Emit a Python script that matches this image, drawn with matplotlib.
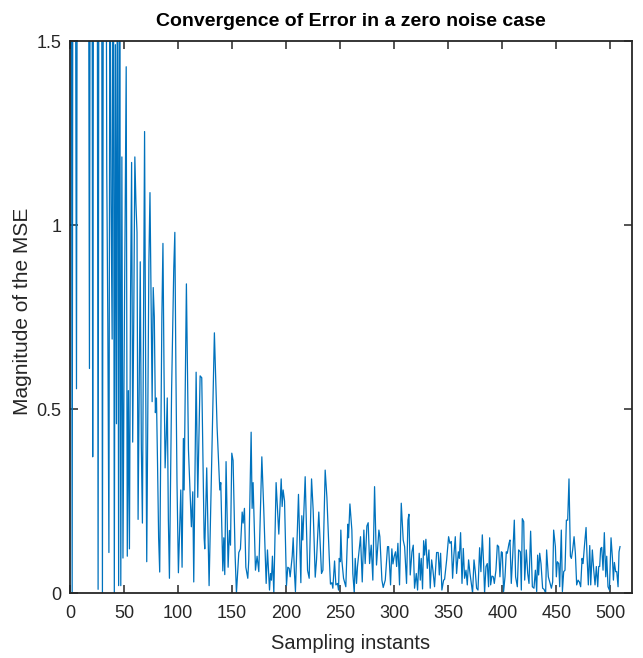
import matplotlib
matplotlib.use("Agg")
import matplotlib.pyplot as plt

# ---------------- data ----------------
instants = [
    1, 2, 3, 4, 5, 6, 7, 8, 9, 10, 11, 12, 13, 14, 15, 16, 17, 18, 19, 20,
    21, 22, 23, 24, 25, 26, 27, 28, 29, 30, 31, 32, 33, 34, 35, 36, 37, 38, 39, 40,
    41, 42, 43, 44, 45, 46, 47, 48, 49, 50, 51, 52, 53, 54, 55, 56, 57, 58, 59, 60,
    61, 62, 63, 64, 65, 66, 67, 68, 69, 70, 71, 72, 73, 74, 75, 76, 77, 78, 79, 80,
    81, 82, 83, 84, 85, 86, 87, 88, 89, 90, 91, 92, 93, 94, 95, 96, 97, 98, 99,
    100.3, 102.5, 103.7, 104.9, 105.6, 107.7, 109.6, 112.3, 113.6, 114.5, 116.7,
    118.2, 120.4, 121.9, 124.1, 124.7, 126.5, 128.7, 133.6, 136.1, 138.6, 139.5,
    141.4, 142.3, 143.2, 144.4, 146.3, 147.5, 148.5, 149.7, 150.9, 152.8, 154.0,
    156.2, 157.7, 159.3, 160.2, 161.4, 162.7, 164.5,
    165.4, 167.6, 168.5, 169.4, 171.6, 173.1, 174.7, 177.5, 179.3, 181.5, 182.7,
    184.6, 185.5, 186.4, 187.3, 188.6, 190.7, 193.2, 195.4, 196.3, 197.2, 198.5,
    200.3, 201.5, 202.8, 203.7, 205.6, 206.5, 207.7, 208.6, 211.4, 213.6, 214.5,
    215.4, 217.6, 219.8, 221.3, 223.5, 225.0, 226.9, 228.1, 230.2, 232.7, 234.0,
    236.1, 237.7, 239.8, 241.0, 242.3, 243.2, 244.8, 246.0, 247.5, 248.5, 249.1,
    250.0, 250.6, 251.5, 253.1, 255.2, 257.1, 257.7, 259.0, 260.8, 261.7, 263.0,
    263.9, 265.1, 266.0, 268.8, 270.4, 271.9, 273.1, 274.7, 275.9, 277.2, 278.7,
    280.2, 281.8, 283.6, 285.8, 286.7, 288.6, 289.8, 291.7, 293.8, 294.8, 296.6,
    297.8, 298.8, 300.0, 301.2, 302.2, 303.4, 304.9,
    306.5, 308.3, 309.6, 311.4, 312.7, 313.6, 314.8, 316.4, 317.6, 318.8, 320.4,
    321.6, 323.1, 324.1, 325.0, 326.2, 327.2, 328.1, 329.3, 330.6, 332.1, 333.3,
    334.6, 335.8, 337.3, 339.2, 340.7, 341.7, 342.9, 344.1, 345.7, 346.6, 348.5,
    350.3, 351.5, 352.8, 354.0, 355.2, 356.5, 357.7, 359.3, 360.2, 361.4, 362.7,
    363.9, 365.1, 366.4, 367.6, 368.8, 370.1, 371.3, 372.5, 373.8, 375.0, 376.2,
    377.5,
    379.0, 380.2, 381.5, 382.7, 383.6, 384.9, 386.1, 387.3, 388.3, 389.2, 390.4,
    391.7, 392.6, 394.1, 395.4, 396.6, 397.8, 399.1, 400.0, 401.2, 402.5, 403.7,
    404.6, 406.2, 407.1, 408.3, 409.6, 411.1, 412.3, 413.9, 415.1, 416.7, 417.6,
    418.5, 419.8, 420.7, 422.2, 423.5, 424.7, 426.2, 427.8, 429.3, 430.6, 431.8,
    432.7, 433.6, 434.6, 435.8, 437.3, 438.6, 440.1, 441.0, 442.6, 444.1, 445.4,
    446.6,
    447.5, 449.1, 450.0, 450.9, 452.2, 453.1, 454.6, 455.6, 456.8, 458.0, 459.3,
    460.5, 461.7, 463.0, 463.9, 465.1, 466.4, 467.6, 468.8, 470.1, 471.3, 472.5,
    473.8, 474.7, 476.2, 477.5, 478.4, 479.6, 480.9, 481.8, 483.3, 484.6, 485.8,
    487.0, 488.3, 489.2, 490.1, 491.0, 492.0, 493.2, 494.4, 495.7, 496.6, 497.8,
    499.1, 500.6, 501.9, 502.8, 503.7, 504.9, 505.9, 507.1, 508.0, 508.9,
]

mse = [
    2.6, 0.0, 2.9, 2.2, 1.9, 0.555, 2.4, 3.1, 2.7, 3.4, 2.5, 3.0, 2.2, 2.8, 3.3, 2.6, 2.1, 0.61, 2.5, 2.9,
    0.37, 2.3, 2.7, 1.9, 2.4, 0.01, 2.6, 2.0, 2.8, 0.0, 2.2, 1.8, 2.5, 1.15, 0.73, 0.11, 1.9, 1.06, 0.69, 2.3,
    0.0, 1.49, 0.46, 2.1, 0.02, 1.8, 0.02, 1.185, 0.095, 0.6, 1.0, 1.43, 0.10, 0.55, 0.12, 0.8, 1.17, 0.41, 0.75, 1.185,
    1.06, 0.98, 0.2, 0.55, 0.9, 0.40, 0.19, 0.7, 1.254, 0.6, 0.085, 0.5, 0.9, 1.088, 0.8, 0.52, 0.83, 0.75, 0.49, 0.53,
    0.35, 0.15, 0.057, 0.4, 0.75, 0.95, 0.6, 0.34, 0.42, 0.53, 0.2, 0.04, 0.3, 0.55, 0.72, 0.88, 0.98, 0.6, 0.3,
    0.055, 0.28, 0.07, 0.42, 0.28, 0.84, 0.39, 0.18, 0.275, 0.03, 0.6,
    0.26, 0.59, 0.585, 0.15, 0.12, 0.34, 0.02, 0.707, 0.45, 0.28, 0.3,
    0.06, 0.15, 0.05, 0.357, 0.07, 0.17, 0.13, 0.38, 0.36, 0.1, 0.0,
    0.11, 0.12, 0.22, 0.19, 0.23, 0.07, 0.04,
    0.09, 0.437, 0.23, 0.30, 0.062, 0.1, 0.058, 0.37, 0.225, 0.026, 0.117,
    0.008, 0.053, 0.035, 0.1, 0.0, 0.30, 0.16, 0.31, 0.235, 0.28, 0.25,
    0.02, 0.07, 0.067, 0.044, 0.1, 0.15, 0.053, 0.004, 0.268, 0.028, 0.21,
    0.144, 0.316, 0.062, 0.04, 0.31, 0.225, 0.043, 0.09, 0.22, 0.053, 0.062,
    0.334, 0.26, 0.103, 0.024, 0.028, 0.013, 0.087, 0.022, 0.026, 0.008, 0.094,
    0.085, 0.171, 0.09, 0.04, 0.017, 0.187, 0.15, 0.242, 0.171, 0.053, 0.0,
    0.094, 0.026, 0.072, 0.153, 0.03, 0.171, 0.08, 0.182, 0.191, 0.08, 0.13,
    0.035, 0.289, 0.076, 0.171, 0.153, 0.035, 0.015, 0.035, 0.126, 0.126, 0.022,
    0.12, 0.079, 0.1, 0.112, 0.072, 0.135, 0.022,
    0.244, 0.144, 0.126, 0.026, 0.198, 0.214, 0.049, 0.112, 0.13, 0.013, 0.053,
    0.008, 0.108, 0.035, 0.094, 0.011, 0.142, 0.103, 0.146, 0.067, 0.117, 0.013,
    0.09, 0.062, 0.017, 0.11, 0.11, 0.049, 0.108, 0.008, 0.035, 0.037, 0.09,
    0.153, 0.135, 0.14, 0.04, 0.103, 0.153, 0.053, 0.112, 0.094, 0.164, 0.026,
    0.121, 0.04, 0.062, 0.022, 0.09, 0.053, 0.026, 0.0, 0.09, 0.058, 0.013,
    0.008,
    0.123, 0.058, 0.158, 0.08, 0.0, 0.072, 0.08, 0.017, 0.15, 0.022, 0.046,
    0.044, 0.026, 0.062, 0.13, 0.126, 0.044, 0.112, 0.11, 0.004, 0.044, 0.112,
    0.108, 0.135, 0.144, 0.026, 0.1, 0.198, 0.044, 0.017, 0.117, 0.112, 0.008,
    0.202, 0.194, 0.035, 0.117, 0.053, 0.026, 0.168, 0.017, 0.013, 0.062, 0.004,
    0.103, 0.049, 0.108, 0.08, 0.013, 0.01, 0.0, 0.117, 0.044, 0.028, 0.013,
    0.03,
    0.171, 0.126, 0.044, 0.085, 0.08, 0.017, 0.171, 0.004, 0.058, 0.062, 0.198,
    0.198, 0.31, 0.1, 0.094, 0.117, 0.153, 0.108, 0.022, 0.035, 0.03, 0.017,
    0.094, 0.08, 0.135, 0.178, 0.1, 0.022, 0.129, 0.022, 0.117, 0.062, 0.022,
    0.072, 0.017, 0.072, 0.072, 0.121, 0.124, 0.062, 0.164, 0.044, 0.1, 0.017,
    0.008, 0.15, 0.094, 0.035, 0.083, 0.058, 0.058, 0.017, 0.112, 0.126,
]

x_ticks = [0, 50, 100, 150, 200, 250, 300, 350, 400, 450, 500]
y_ticks = [0, 0.5, 1, 1.5]
y_tick_labels = ["0", "0.5", "1", "1.5"]

title_text = "Convergence of Error in a zero noise case"
x_label = "Sampling instants"
y_label = "Magnitude of the MSE"

# ---------------- figure ----------------
font = ["Liberation Sans", "DejaVu Sans"]
axis_col = "#262626"

fig = plt.figure(figsize=(6.43, 6.58), dpi=100)
ax = fig.add_axes([70 / 643, 65 / 658, 562 / 643, 552 / 658])

ax.plot(instants, mse, color="#0072BD", linewidth=0.9)

ax.set_xlim(0, 520)
ax.set_ylim(0, 1.5)
ax.set_xticks(x_ticks)
ax.set_yticks(y_ticks)
ax.set_yticklabels(y_tick_labels)

for s in ax.spines.values():
    s.set_color(axis_col)
    s.set_linewidth(1.3)

ax.tick_params(direction="in", top=True, right=True, length=6, width=1.1,
               colors=axis_col, labelsize=13)
ax.tick_params(axis="x", pad=9)
ax.tick_params(axis="y", pad=6)
for lbl in ax.get_xticklabels() + ax.get_yticklabels():
    lbl.set_family(font)
    lbl.set_color(axis_col)

ax.set_title(title_text, family=font, fontweight="bold", fontsize=14,
             color="black", pad=11)
ax.set_xlabel(x_label, family=font, fontsize=14.5, color=axis_col, labelpad=8)
ax.set_ylabel(y_label, family=font, fontsize=15, color=axis_col)
ax.yaxis.set_label_coords(-0.068, 0.51)

fig.savefig("out.png", dpi=100)
